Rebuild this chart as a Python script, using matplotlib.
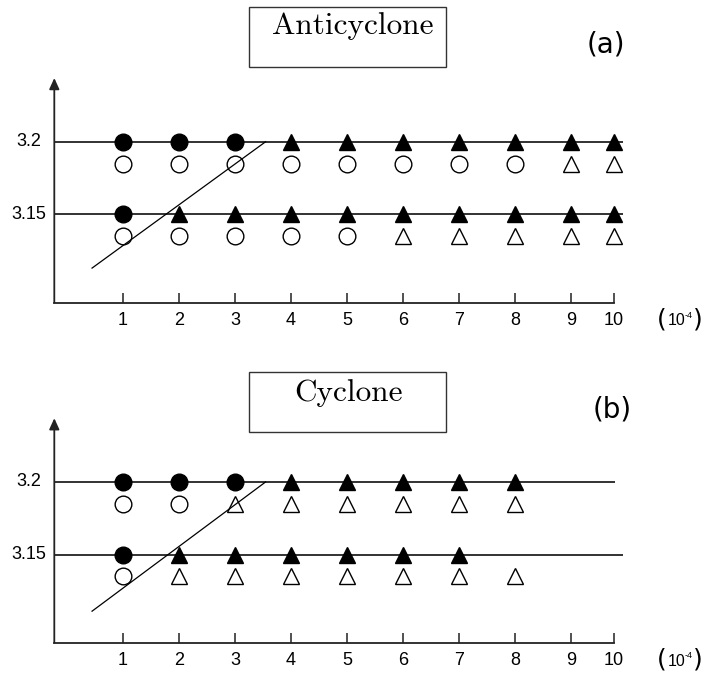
import matplotlib
matplotlib.use("Agg")
import matplotlib.pyplot as plt
from matplotlib.patches import Rectangle
from matplotlib.transforms import blended_transform_factory

# ---------------- data ----------------
tick_labels = ["1", "2", "3", "4", "5", "6", "7", "8", "9", "10"]
tick_pos = [1, 2, 3, 4, 5, 6, 7, 8, 9, 9.75]
y_ticks = [3.15, 3.2]
y_tick_labels = ["3.15", "3.2"]

filled_levels = [3.2, 3.15]      # solid markers sit on the lines
open_levels = [3.185, 3.135]     # open markers just below

# 'c' = circle, 't' = triangle, '' = none
a_upper_filled = ["c", "c", "c", "t", "t", "t", "t", "t", "t", "t"]
a_upper_open = ["c", "c", "c", "c", "c", "c", "c", "c", "t", "t"]
a_lower_filled = ["c", "t", "t", "t", "t", "t", "t", "t", "t", "t"]
a_lower_open = ["c", "c", "c", "c", "c", "t", "t", "t", "t", "t"]

b_upper_filled = ["c", "c", "c", "t", "t", "t", "t", "t", "", ""]
b_upper_open = ["c", "c", "t", "t", "t", "t", "t", "t", "", ""]
b_lower_filled = ["c", "t", "t", "t", "t", "t", "t", "", "", ""]
b_lower_open = ["c", "t", "t", "t", "t", "t", "t", "t", "", ""]

a_line_ends = [9.91, 9.91]
b_line_ends = [9.77, 9.91]

diag_x = [0.453, 3.547]
a_diag_y = [3.113, 3.2]
b_diag_y = [3.111, 3.2]

titles = ["Anticyclone", "Cyclone"]
panel_tags = ["(a)", "(b)"]

# ---------------- figure ----------------
W, H = 703, 675
fig = plt.figure(figsize=(W / 100, H / 100), dpi=100)

XLIM = (-0.22, 10.3)
YLIM = (3.0893, 3.2439)
ax_left = 54.3 / W
ax_width = (644.4 - 54.3) / W


def fy(px):
    return 1 - px / H


def make_panel(bottom_px, top_px, rows_filled, rows_open, line_ends, diag_y):
    ax = fig.add_axes([ax_left, fy(bottom_px), ax_width, fy(top_px) - fy(bottom_px)])
    ax.set_xlim(*XLIM)
    ax.set_ylim(*YLIM)
    ax.patch.set_visible(False)
    for s in ("top", "right", "left"):
        ax.spines[s].set_visible(False)
    ax.spines["bottom"].set_linewidth(1.3)
    ax.spines["bottom"].set_color("#222222")
    ax.spines["bottom"].set_bounds(XLIM[0], tick_pos[-1])

    # y axis with arrow
    ax.annotate("", xy=(0, 1), xytext=(0, 0), xycoords="axes fraction",
                arrowprops=dict(arrowstyle="-|>,head_length=0.55,head_width=0.25",
                                color="#222222", lw=1.3, shrinkA=0, shrinkB=0,
                                mutation_scale=12),
                annotation_clip=False)

    ax.set_xticks(tick_pos, tick_labels)
    ax.tick_params(axis="x", direction="in", length=7, width=1.1, pad=7,
                   color="#222222", labelsize=13,
                   labelfontfamily="Liberation Sans")
    ax.set_yticks([])

    # y labels, centred at a fixed distance left of the axis
    tr = blended_transform_factory(fig.transFigure, ax.transData)
    for yv, lab in zip(y_ticks, y_tick_labels):
        ax.text(28.5 / W, yv, lab, transform=tr, ha="center", va="center",
                fontsize=13, family="Liberation Sans")

    # horizontal lines
    for lev, end in zip(filled_levels, line_ends):
        ax.hlines(lev, XLIM[0], end, color="#222222", lw=1.3, zorder=1)

    # diagonal
    ax.plot(diag_x, diag_y, color="black", lw=0.9, zorder=1)

    mk = {"c": "o", "t": "^"}
    for lev, row in zip(filled_levels, rows_filled):
        for x, code in zip(tick_pos, row):
            if code:
                ax.plot(x, lev, marker=mk[code], ms=12, mfc="black", mec="black",
                        mew=1, ls="none", zorder=3, clip_on=False)
    for lev, row in zip(open_levels, rows_open):
        for x, code in zip(tick_pos, row):
            if code:
                ax.plot(x, lev, marker=mk[code], ms=12, mfc="none", mec="black",
                        mew=1.0, ls="none", zorder=3, clip_on=False)
    return ax


make_panel(302.5, 78.0, [a_upper_filled, a_lower_filled],
           [a_upper_open, a_lower_open], a_line_ends, a_diag_y)
make_panel(642.7, 418.2, [b_upper_filled, b_lower_filled],
           [b_upper_open, b_lower_open], b_line_ends, b_diag_y)

# title boxes
for (top, bot, base, cx), title in zip([(7.3, 67.0, 34.0, 353), (372.0, 431.5, 400.5, 348)], titles):
    fig.patches.append(Rectangle((249 / W, fy(bot)), 197 / W, (bot - top) / H,
                                 transform=fig.transFigure, fill=False,
                                 ec="#333333", lw=1.0))
    fig.text(cx / W, fy(base), title, family="cmr10", fontsize=22.5,
             ha="center", va="baseline")

# panel tags
for (cx, cy), tag in zip([(606, 44), (612, 409)], panel_tags):
    fig.text(cx / W, fy(cy), tag, family="DejaVu Sans", fontsize=20,
             ha="center", va="center")

# (10^-4) unit labels
for cy in (320, 660):
    fig.text(657 / W, fy(cy), "(", family="DejaVu Sans", fontsize=18,
             ha="left", va="center")
    fig.text(668 / W, fy(cy + 1), "10", family="Liberation Sans", fontsize=11.5,
             ha="left", va="center")
    fig.text(685 / W, fy(cy - 5), "-4", family="Liberation Sans", fontsize=6.5,
             ha="left", va="center")
    fig.text(693 / W, fy(cy), ")", family="DejaVu Sans", fontsize=18,
             ha="left", va="center")

fig.savefig("out.png", dpi=100)
